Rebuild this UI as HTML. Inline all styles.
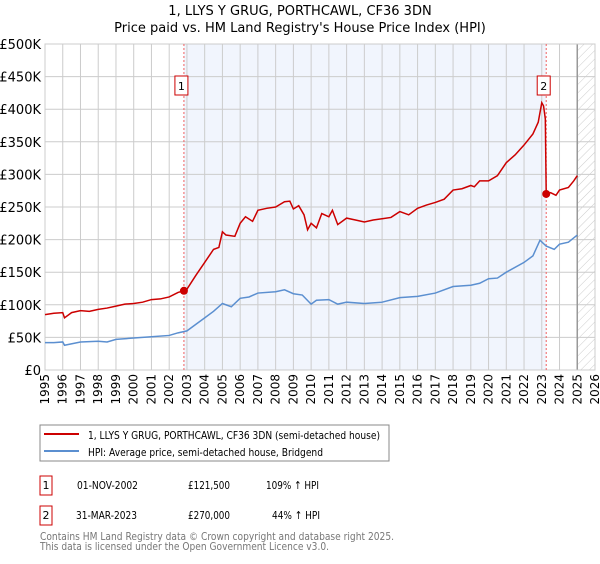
<!DOCTYPE html>
<html><head><meta charset="utf-8"><style>
body{margin:0;background:#fff;font-family:"DejaVu Sans","Liberation Sans",sans-serif;}
svg text{font-family:"DejaVu Sans","Liberation Sans",sans-serif;}
</style></head><body>
<svg width="600" height="560" viewBox="0 0 600 560" xmlns="http://www.w3.org/2000/svg">
<defs><pattern id="hatch" width="6" height="6" patternUnits="userSpaceOnUse" patternTransform="rotate(45)"><line x1="0" y1="0" x2="0" y2="6" stroke="#ccc" stroke-width="1"/></pattern></defs>
<text x="300" y="15" text-anchor="middle" font-size="13">1, LLYS Y GRUG, PORTHCAWL, CF36 3DN</text>
<text x="300" y="32" text-anchor="middle" font-size="13">Price paid vs. HM Land Registry's House Price Index (HPI)</text>
<g id="plot"></g>
<rect x="40" y="425" width="349" height="36" fill="#fff" stroke="#888"/>
<line x1="44" y1="434" x2="79" y2="434" stroke="#cc0000" stroke-width="2"/>
<text x="88" y="439" font-size="11" textLength="292" lengthAdjust="spacingAndGlyphs">1, LLYS Y GRUG, PORTHCAWL, CF36 3DN (semi-detached house)</text>
<line x1="44" y1="451" x2="79" y2="451" stroke="#5b8fd0" stroke-width="2"/>
<text x="88" y="456" font-size="11" textLength="235" lengthAdjust="spacingAndGlyphs">HPI: Average price, semi-detached house, Bridgend</text>
<g font-size="11">
<rect x="40" y="476" width="12" height="19" fill="#fff" stroke="#cc0000"/>
<text x="46" y="489" text-anchor="middle">1</text>
<text x="77" y="489" textLength="61" lengthAdjust="spacingAndGlyphs">01-NOV-2002</text><text x="188" y="489" textLength="42" lengthAdjust="spacingAndGlyphs">£121,500</text><text x="266" y="489" textLength="53" lengthAdjust="spacingAndGlyphs">109% ↑ HPI</text>
<rect x="40" y="506" width="12" height="19" fill="#fff" stroke="#cc0000"/>
<text x="46" y="519" text-anchor="middle">2</text>
<text x="76" y="519" textLength="61" lengthAdjust="spacingAndGlyphs">31-MAR-2023</text><text x="188" y="519" textLength="42" lengthAdjust="spacingAndGlyphs">£270,000</text><text x="272" y="519" textLength="48" lengthAdjust="spacingAndGlyphs">44% ↑ HPI</text>
</g>
<text x="40" y="540" font-size="11" fill="#777" textLength="354" lengthAdjust="spacingAndGlyphs">Contains HM Land Registry data © Crown copyright and database right 2025.</text>
<text x="40" y="550" font-size="11" fill="#777" textLength="289" lengthAdjust="spacingAndGlyphs">This data is licensed under the Open Government Licence v3.0.</text>
</svg>
<script>
const priceYears=[1995,1995.5,1996,1996.1,1996.5,1997,1997.5,1998,1998.5,1999,1999.5,2000,2000.5,2001,2001.5,2002,2002.5,2002.83,2003,2003.5,2004,2004.5,2004.8,2005,2005.2,2005.7,2006,2006.3,2006.7,2007,2007.5,2008,2008.5,2008.8,2009,2009.3,2009.6,2009.8,2010,2010.3,2010.6,2011,2011.2,2011.5,2012,2012.5,2013,2013.5,2014,2014.5,2015,2015.5,2016,2016.5,2017,2017.5,2018,2018.5,2019,2019.2,2019.5,2020,2020.5,2021,2021.5,2022,2022.5,2022.8,2023.0,2023.1,2023.2,2023.25,2023.5,2023.8,2024,2024.5,2024.8,2025];
const priceValues=[85,87,88,80,88,91,90,93,95,98,101,102,104,108,109,112,119,121.5,124,145,165,185,188,212,207,205,225,235,228,245,248,250,258,259,247,252,238,215,225,218,240,235,245,223,233,230,227,230,232,234,243,238,248,253,257,262,276,278,283,281,290,290,298,318,330,345,362,380,410,405,385,270,272,268,276,280,290,298];
const hpiYears=[1995,1995.5,1996,1996.1,1997,1998,1998.5,1999,2000,2001,2002,2002.5,2003,2003.5,2004,2004.5,2005,2005.5,2006,2006.5,2007,2008,2008.5,2009,2009.5,2010,2010.3,2011,2011.5,2012,2013,2014,2015,2016,2017,2018,2019,2019.5,2020,2020.5,2021,2022,2022.5,2022.9,2023.25,2023.7,2024,2024.5,2025];
const hpiValues=[42,42,43,38,43,44,43,47,49,51,53,57,60,70,80,90,102,97,110,112,118,120,123,117,115,101,107,108,101,104,102,104,111,113,118,128,130,133,140,141,150,165,175,199,190,185,193,196,207];
const yTicks=[0,50,100,150,200,250,300,350,400,450,500];
const yTickLabels=["£0","£50K","£100K","£150K","£200K","£250K","£300K","£350K","£400K","£450K","£500K"];
const xTicks=[1995,1996,1997,1998,1999,2000,2001,2002,2003,2004,2005,2006,2007,2008,2009,2010,2011,2012,2013,2014,2015,2016,2017,2018,2019,2020,2021,2022,2023,2024,2025,2026];
const saleYears=[2002.83,2023.25];
const saleValues=[121.5,270];
const saleLabels=["1","2"];
const X0=45,X1=595,Y0=370,Y1=44;
const x=v=>X0+(v-1995)/(2026-1995)*(X1-X0);
const y=v=>Y0-(v/500)*(Y0-Y1);
const NS="http://www.w3.org/2000/svg";
const g=document.getElementById('plot');
function mk(tag,attrs,parent){const e=document.createElementNS(NS,tag);for(const k in attrs)e.setAttribute(k,attrs[k]);(parent||g).appendChild(e);return e;}
let e;
e=mk('rect',{x:X0,y:Y1,width:X1-X0,height:Y0-Y1,fill:'#fff'});


e=mk('rect',{x:x(saleYears[0]),y:Y1,width:x(saleYears[1])-x(saleYears[0]),height:Y0-Y1,fill:'#eef3fc',opacity:0.8});


e=mk('rect',{x:x(2025),y:Y1,width:X1-x(2025),height:Y0-Y1,fill:'url(#hatch)'});


yTicks.forEach((t,i)=>{
 e=mk('line',{x1:X0,x2:X1,y1:y(t),y2:y(t),stroke:'#ccc','stroke-width':1});
 
 
 e=mk('text',{x:X0-4,y:y(t)+5,'text-anchor':'end','font-size':13});
 e.textContent=yTickLabels[i];
 
 
});
xTicks.forEach(t=>{
 e=mk('line',{x1:x(t),x2:x(t),y1:Y1,y2:Y0,stroke:'#ccc','stroke-width':1});
 
 
 e=mk('text',{x:0,y:0,'text-anchor':'end','font-size':12,transform:`translate(${x(t)+4},374) rotate(-90)`});
 e.textContent=String(t);
 
 
});
e=mk('line',{x1:x(2025),x2:x(2025),y1:Y1,y2:Y0,stroke:'#999','stroke-width':1.5});


e=mk('rect',{x:X0,y:Y1,width:X1-X0,height:Y0-Y1,fill:'none',stroke:'#ccc'});


saleYears.forEach((s,i)=>{
 e=mk('line',{x1:x(s),x2:x(s),y1:Y1,y2:Y0,stroke:'#f06060','stroke-width':1,'stroke-dasharray':'2,2'});
 
 
});
e=mk('polyline',{points:hpiYears.map((v,i)=>x(v)+','+y(hpiValues[i])).join(' '),fill:'none',stroke:'#5b8fd0','stroke-width':1.5});


e=mk('polyline',{points:priceYears.map((v,i)=>x(v)+','+y(priceValues[i])).join(' '),fill:'none',stroke:'#cc0000','stroke-width':1.5});


saleYears.forEach((s,i)=>{
 e=mk('circle',{cx:x(s),cy:y(saleValues[i]),r:4,fill:'#cc0000'});
 
 
 e=mk('rect',{x:x(s)-9,y:76,width:13,height:19,fill:'#fff',stroke:'#cc0000'});
 
 
 e=mk('text',{x:x(s)-2.5,y:90,'text-anchor':'middle','font-size':11});
 e.textContent=saleLabels[i];
 
 
});
</script>
</body></html>
